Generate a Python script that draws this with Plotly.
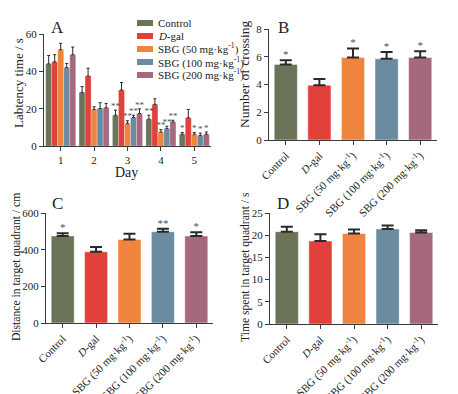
import plotly.graph_objects as go

W, H = 458, 394
FONT = "Liberation Serif"

# ---------------- data ----------------
group_names = ["Control", "<i>D</i>-gal", "SBG (50 mg·kg<sup>-1</sup>)",
               "SBG (100 mg·kg<sup>-1</sup>)", "SBG (200 mg·kg<sup>-1</sup>)"]
group_colors = ["#6b7358", "#e2403b", "#ef843f", "#6b8ba0", "#a6687e"]

days = [1, 2, 3, 4, 5]
day_labels = ["1", "2", "3", "4", "5"]

lat_control = [44.0, 28.7, 16.5, 14.4, 6.3]
lat_dgal = [45.1, 37.5, 30.0, 22.3, 15.1]
lat_sbg50 = [51.6, 19.6, 12.0, 7.5, 6.3]
lat_sbg100 = [42.0, 20.1, 15.3, 9.3, 5.6]
lat_sbg200 = [48.9, 20.5, 17.4, 12.9, 6.3]

err_control = [4.5, 3.1, 2.7, 2.1, 0.9]
err_dgal = [3.8, 4.2, 4.0, 3.0, 4.5]
err_sbg50 = [3.4, 1.4, 1.5, 1.3, 0.9]
err_sbg100 = [2.2, 3.1, 1.2, 1.3, 1.3]
err_sbg200 = [4.1, 2.3, 2.5, 0.9, 1.2]

sig_control = ["", "", "**", "**", "*"]
sig_dgal = ["", "", "", "", ""]
sig_sbg50 = ["", "", "**", "**", "*"]
sig_sbg100 = ["", "", "**", "**", "*"]
sig_sbg200 = ["", "", "**", "**", "*"]

crossing = [5.45, 3.95, 5.95, 5.85, 5.95]
crossing_err = [0.3, 0.45, 0.65, 0.5, 0.45]
crossing_sig = ["*", "", "*", "*", "*"]

distance = [475, 388, 455, 498, 475]
distance_err = [15, 27, 32, 16, 20]
distance_sig = ["*", "", "", "**", "*"]

time_spent = [20.8, 18.7, 20.4, 21.4, 20.6]
time_err = [1.1, 1.5, 0.9, 0.8, 0.5]
time_sig = ["", "", "", "", ""]

lat_values = [lat_control, lat_dgal, lat_sbg50, lat_sbg100, lat_sbg200]
lat_errors = [err_control, err_dgal, err_sbg50, err_sbg100, err_sbg200]
lat_sigs = [sig_control, sig_dgal, sig_sbg50, sig_sbg100, sig_sbg200]

# ---------------- helpers ----------------
def px_x(p):
    return p / W

def px_y(p):
    return 1 - p / H

AX = "#3a3a3a"
STAR = "#505050"
fig = go.Figure()

# ---------- Panel A: grouped bars ----------
n = len(group_names)
group_w = 0.9
bw = group_w / n
for i in range(n):
    off = -group_w / 2 + i * bw
    fig.add_trace(go.Bar(
        x=days, y=lat_values[i], width=bw, offset=off,
        marker=dict(color=group_colors[i], line=dict(color="rgba(255,255,255,0.5)", width=0.5)),
        error_y=dict(type="data", array=lat_errors[i], arrayminus=[0] * len(days),
                     symmetric=False, color="#2a2a2a", thickness=1, width=1.5),
        xaxis="x", yaxis="y", showlegend=False, name=group_names[i]))
    fig.add_trace(go.Scatter(
        x=[d + off + bw / 2 for d in days],
        y=[v + e - 0.5 for v, e in zip(lat_values[i], lat_errors[i])],
        text=lat_sigs[i], mode="text", textposition="top center",
        textfont=dict(family=FONT, size=9, color=STAR),
        xaxis="x", yaxis="y", showlegend=False, hoverinfo="skip"))

# ---------- Panels B, C, D ----------
cats = list(range(len(group_names)))
panels = [
    ("x2", "y2", crossing, crossing_err, crossing_sig, -0.05),
    ("x3", "y3", distance, distance_err, distance_sig, -4),
    ("x4", "y4", time_spent, time_err, time_sig, 0.0),
]
for xa, ya, vals, errs, sigs, pad in panels:
    fig.add_trace(go.Bar(
        x=cats, y=vals, width=0.69,
        marker=dict(color=group_colors, line=dict(color="rgba(255,255,255,0.6)", width=0.8)),
        error_y=dict(type="data", array=errs, arrayminus=[0] * len(vals), symmetric=False,
                     color="#2a2a2a", thickness=2, width=6),
        xaxis=xa, yaxis=ya, showlegend=False))
    fig.add_trace(go.Scatter(
        x=cats, y=[v + e + pad for v, e in zip(vals, errs)], text=sigs,
        mode="text", textposition="top center",
        textfont=dict(family=FONT, size=11, color=STAR),
        xaxis=xa, yaxis=ya, showlegend=False, hoverinfo="skip"))

axis_common = dict(showline=True, linecolor=AX, linewidth=1.2, ticks="outside",
                   ticklen=4, tickcolor=AX, tickwidth=1.2, showgrid=False, zeroline=False,
                   automargin=False, tickfont=dict(family=FONT, size=11, color="#222"))

cat_axis = dict(axis_common, tickmode="array", tickvals=cats, ticktext=group_names,
                tickangle=-45, range=[-0.5, 4.5])

fig.update_layout(
    width=W, height=H, margin=dict(l=0, r=0, t=0, b=0, autoexpand=False),
    paper_bgcolor="white", plot_bgcolor="white",
    font=dict(family=FONT, color="#222"),
    barmode="overlay", showlegend=False,
    xaxis=dict(axis_common, domain=[px_x(44), px_x(211)], range=[0.5, 5.5],
               tickmode="array", tickvals=days, ticktext=day_labels, anchor="y"),
    yaxis=dict(axis_common, domain=[px_y(146), px_y(34)], range=[0, 60], dtick=20, anchor="x"),
    xaxis2=dict(cat_axis, domain=[px_x(269), px_x(437)], anchor="y2"),
    yaxis2=dict(axis_common, domain=[px_y(140), px_y(29)], range=[0, 8], dtick=2, anchor="x2"),
    xaxis3=dict(cat_axis, domain=[px_x(46), px_x(213)], anchor="y3"),
    yaxis3=dict(axis_common, domain=[px_y(323), px_y(213)], range=[0, 600], dtick=200, anchor="x3"),
    xaxis4=dict(cat_axis, domain=[px_x(270), px_x(438)], anchor="y4"),
    yaxis4=dict(axis_common, domain=[px_y(324), px_y(213)], range=[0, 25], dtick=5, anchor="x4"),
)

# axis titles as annotations
for text, x, y, ang, size in [("Labtency time / s", 18, 83, -90, 13),
                              ("Day", 127, 172, 0, 14),
                              ("Number of crossing", 245, 75, -90, 13.5),
                              ("Distance in target quadrant / cm", 16, 267, -90, 11.6),
                              ("Time spent in target quadrant / s", 245, 267, -90, 11.6)]:
    fig.add_annotation(text=text, x=px_x(x), y=px_y(y), xref="paper", yref="paper",
                       xanchor="center", yanchor="middle",
                       textangle=ang, showarrow=False,
                       font=dict(family=FONT, size=size, color="#222"))

# panel letters
for letter, x, y in [("A", 57, 28), ("B", 283, 27), ("C", 57, 203), ("D", 283, 203)]:
    fig.add_annotation(text=letter, x=px_x(x), y=px_y(y), xref="paper", yref="paper",
                       xanchor="center", yanchor="middle",
                       showarrow=False, font=dict(family=FONT, size=17, color="#222"))

# manual compact legend for panel A
for i in range(n):
    yc = 23 + i * 13
    fig.add_shape(type="rect", xref="paper", yref="paper",
                  x0=px_x(137), x1=px_x(153), y0=px_y(yc + 3), y1=px_y(yc - 3),
                  fillcolor=group_colors[i], line=dict(width=0))
    fig.add_annotation(text=group_names[i], x=px_x(156), y=px_y(yc), xref="paper", yref="paper",
                       xanchor="left", yanchor="middle", showarrow=False,
                       font=dict(family=FONT, size=11, color="#222"))

fig.write_html("out.html", config={"displayModeBar": False},
               post_script="document.body.style.margin='0';")
